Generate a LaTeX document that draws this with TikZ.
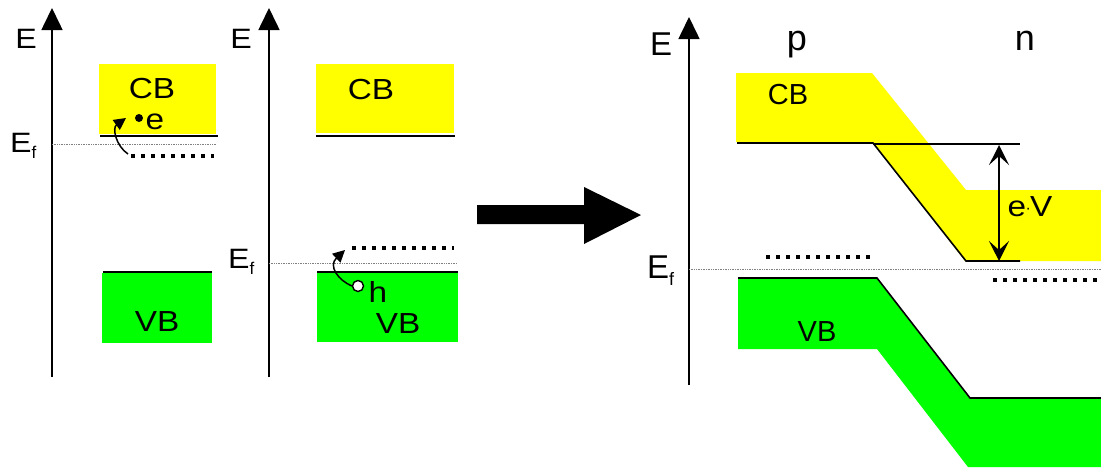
\documentclass[tikz,border=0pt]{standalone}
\usepackage{fontspec}
\setmainfont{Liberation Sans}
\usetikzlibrary{arrows.meta}
\definecolor{cbyellow}{RGB}{255,255,0}
\definecolor{vbgreen}{RGB}{0,255,0}
\newcommand\wide[1]{\scalebox{1.15}[1]{#1}}
\begin{document}
\begin{tikzpicture}[x=1pt,y=-1pt,
  axis/.style={line width=1.6pt,-{Triangle[length=22pt,width=21pt]}},
  lvl/.style={line width=1.6pt},
  efline/.style={gray,line width=0.7pt,densely dotted},
  dotrow/.style={line width=4pt,dash pattern=on 4pt off 6pt},
  lbl/.style={font=\fontsize{29}{29}\selectfont,inner sep=0,anchor=base},
  elbl/.style={font=\fontsize{28}{28}\selectfont,inner sep=0,anchor=base},
  bigE/.style={font=\fontsize{33}{33}\selectfont,inner sep=0,anchor=base},
  pn/.style={font=\fontsize{36}{36}\selectfont,inner sep=0,anchor=base},
  jump/.style={line width=1.5pt,-{Triangle[length=12pt,width=12pt]}},
  dblarrow/.style={line width=1.6pt,{Stealth[length=20pt,width=20pt,inset=9pt]}-{Stealth[length=20pt,width=20pt,inset=9pt]}}]
\useasboundingbox (0,0) rectangle (1101,467);
% ---------- panel 1 (n-type) ----------
\coordinate (a1b) at (52,377);
\coordinate (a1t) at (52,8);
\draw[axis] (a1b) -- (a1t);
\node[elbl] (E1) at (26,48) {\wide{E}};
\fill[cbyellow] (99,64) rectangle (216,134);
\node[lbl] (cb1) at (152,98) {\wide{CB}};
\draw[lvl] (100,136) -- (218,136);
\draw[efline] (52,144) -- (216,144);
\node[elbl,anchor=base west] (Ef1) at (10,152) {\wide{E}\raisebox{-6pt}{\fontsize{17}{17}\selectfont f}};
\draw[dotrow] (131,156) -- (214,156);
\node[circle,fill=black,minimum size=8pt,inner sep=0] (el) at (139,118) {};
\node[lbl] (e1) at (155,129) {\wide{e}};
\coordinate (j1s) at (128,154);
\coordinate (j1e) at (126,118);
\draw[jump] (j1s) .. controls (116,146) and (112,128) .. (j1e);
\fill[vbgreen] (102,273) rectangle (212,343);
\draw[lvl] (103,272) -- (212,272);
\node[lbl] (vb1) at (157,331) {\wide{VB}};
% ---------- panel 2 (p-type) ----------
\coordinate (a2b) at (269,377);
\coordinate (a2t) at (269,8);
\draw[axis] (a2b) -- (a2t);
\node[elbl] (E2) at (241,48) {\wide{E}};
\fill[cbyellow] (316,64) rectangle (454,133);
\node[lbl] (cb2) at (371,99) {\wide{CB}};
\draw[lvl] (316,136) -- (455,136);
\draw[efline] (269,263) -- (457,263);
\node[elbl,anchor=base west] (Ef2) at (228,268) {\wide{E}\raisebox{-6pt}{\fontsize{17}{17}\selectfont f}};
\draw[dotrow] (352,248) -- (454,248);
\fill[vbgreen] (317,273) rectangle (458,342);
\draw[lvl] (317,272) -- (458,272);
\node[lbl] (vb2) at (398,333) {\wide{VB}};
\node[circle,draw,fill=white,line width=1.4pt,minimum size=11pt,inner sep=0] (hole) at (358,286) {};
\node[lbl] (h2) at (378,302) {\wide{h}};
\coordinate (j2e) at (345,250);
\draw[jump] (hole.west) .. controls (338,280) and (328,266) .. (j2e);
% ---------- big arrow ----------
\fill[black] (477,205) -- (584,205) -- (584,187) -- (641,215) -- (584,244) -- (584,224) -- (477,224) -- cycle;
% ---------- panel 3 (p-n junction) ----------
\fill[cbyellow] (736,73) -- (872,73) -- (966,190) -- (1101,190) -- (1101,261) -- (965,261) -- (873,142) -- (736,142) -- cycle;
\fill[vbgreen] (738,279) -- (877,279) -- (970,399) -- (1101,399) -- (1101,467) -- (968,467) -- (877,349) -- (738,349) -- cycle;
\coordinate (a3b) at (689,385);
\coordinate (a3t) at (689,17);
\draw[axis] (a3b) -- (a3t);
\node[bigE] (E3) at (661,55) {E};
\node[pn] (p3) at (797,50) {p};
\node[pn] (n3) at (1025,50) {n};
\node[lbl] (cb3) at (788,104) {CB};
\node[lbl] (vb3) at (817,341) {VB};
\draw[lvl] (737,143) -- (873,143) -- (966,261) -- (1020,261);
\draw[lvl] (873,144) -- (1020,144);
\draw[lvl] (738,278) -- (877,278) -- (970,398) -- (1101,398);
\coordinate (vt) at (999,145);
\coordinate (vbm) at (999,261);
\draw[dblarrow] (vt) -- (vbm);
\node[lbl] (eV) at (1030,216) {\wide{e}\kern-0.5pt\raisebox{3pt}{\fontsize{16}{16}\selectfont ·}\kern-1pt \wide{V}};
\draw[efline] (689,269) -- (1101,269);
\node[bigE,anchor=base west] (Ef3) at (647,278) {E\raisebox{-7pt}{\fontsize{18}{18}\selectfont f}};
\draw[dotrow] (766,257) -- (870,257);
\draw[dotrow] (993,280) -- (1097,280);
\end{tikzpicture}
\end{document}
